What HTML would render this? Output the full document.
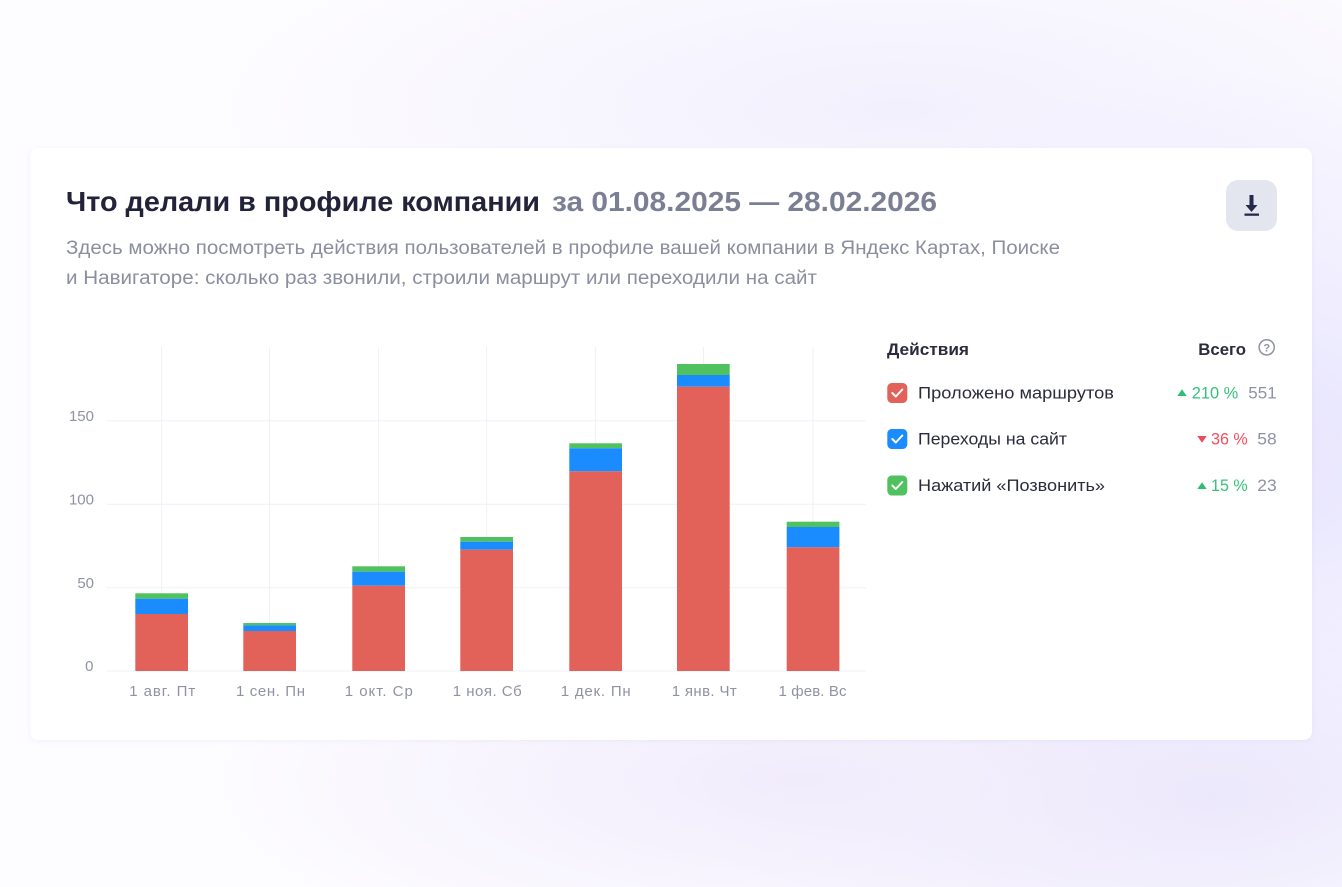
<!DOCTYPE html>
<html>
<head>
<meta charset="utf-8">
<style>
  html,body{margin:0;padding:0;}
  body{
    width:1342px;height:887px;overflow:hidden;position:relative;
    background:
      radial-gradient(ellipse 520px 380px at 1250px 450px, #e6e3fd 0%, rgba(230,227,253,0) 100%),
      radial-gradient(ellipse 600px 200px at 800px 780px, #f1ecfc 0%, rgba(241,236,252,0) 100%),
      radial-gradient(ellipse 700px 220px at 900px 110px, #f2f0fd 0%, rgba(242,240,253,0) 100%),
      radial-gradient(ellipse 500px 200px at 1200px 800px, #ebe7fc 0%, rgba(235,231,252,0) 100%),
      #fdfcff;
    font-family:"Liberation Sans", sans-serif;
  }
  svg{position:absolute;left:0;top:0;}
</style>
</head>
<body>
<svg width="1342" height="887" viewBox="0 0 1342 887" xmlns="http://www.w3.org/2000/svg" font-family="Liberation Sans, sans-serif">
  <defs>
    <filter id="sh" x="-5%" y="-5%" width="110%" height="110%">
      <feDropShadow dx="0" dy="1" stdDeviation="2" flood-color="#b8b4e0" flood-opacity="0.18"/>
    </filter>
  </defs>
  <!-- card -->
  <rect x="30" y="148" width="1282" height="592" rx="8" fill="#ffffff" filter="url(#sh)"/>

  <!-- title -->
  <text x="66" y="211" font-size="28" font-weight="bold" fill="#22223a" textLength="474" lengthAdjust="spacingAndGlyphs">Что делали в профиле компании</text>
  <text x="552" y="211" font-size="28" font-weight="bold" fill="#7b7f93" textLength="385" lengthAdjust="spacingAndGlyphs">за 01.08.2025 — 28.02.2026</text>

  <!-- subtitle -->
  <text x="66" y="254" font-size="19" fill="#8b8e9f" textLength="994" lengthAdjust="spacingAndGlyphs">Здесь можно посмотреть действия пользователей в профиле вашей компании в Яндекс Картах, Поиске</text>
  <text x="66" y="284" font-size="19" fill="#8b8e9f" textLength="751" lengthAdjust="spacingAndGlyphs">и Навигаторе: сколько раз звонили, строили маршрут или переходили на сайт</text>

  <!-- download button -->
  <rect x="1226" y="180" width="51" height="51" rx="12" fill="#e4e6ef"/>
  <rect x="1249.5" y="195" width="4" height="11" fill="#262a4a"/>
  <polygon points="1245.5,205 1257.5,205 1251.5,212" fill="#262a4a"/>
  <rect x="1244.5" y="213.5" width="14.5" height="2.3" fill="#262a4a"/>

  <!-- grid -->
  <g stroke="#eef1f8" stroke-width="1">
    <line x1="161.6" y1="347" x2="161.6" y2="671"/>
    <line x1="269.6" y1="347" x2="269.6" y2="671"/>
    <line x1="378.6" y1="347" x2="378.6" y2="671"/>
    <line x1="486.6" y1="347" x2="486.6" y2="671"/>
    <line x1="595.6" y1="347" x2="595.6" y2="671"/>
    <line x1="703.5" y1="347" x2="703.5" y2="671"/>
    <line x1="813" y1="347" x2="813" y2="671"/>
    <line x1="107" y1="420.7" x2="866" y2="420.7"/>
    <line x1="107" y1="504.3" x2="866" y2="504.3"/>
    <line x1="107" y1="587.7" x2="866" y2="587.7"/>
    <line x1="107" y1="671" x2="866" y2="671"/>
  </g>

  <!-- y labels -->
  <g font-size="15" fill="#8e92a3" text-anchor="end">
    <text x="94" y="421">150</text>
    <text x="94" y="504.5">100</text>
    <text x="94" y="588">50</text>
    <text x="93.5" y="671">0</text>
  </g>

  <!-- bars -->
  <g>
    <!-- 1 -->
    <rect x="135.3" y="593.3" width="52.7" height="5.4" fill="#4fc15e"/>
    <rect x="135.3" y="598.7" width="52.7" height="15.3" fill="#1a8cff"/>
    <rect x="135.3" y="614" width="52.7" height="57" fill="#e2625a"/>
    <!-- 2 -->
    <rect x="243.3" y="623" width="52.7" height="2.3" fill="#4fc15e"/>
    <rect x="243.3" y="625.3" width="52.7" height="5.7" fill="#1a8cff"/>
    <rect x="243.3" y="631" width="52.7" height="40" fill="#e2625a"/>
    <!-- 3 -->
    <rect x="352.3" y="566.3" width="52.7" height="5.4" fill="#4fc15e"/>
    <rect x="352.3" y="571.7" width="52.7" height="14" fill="#1a8cff"/>
    <rect x="352.3" y="585.7" width="52.7" height="85.3" fill="#e2625a"/>
    <!-- 4 -->
    <rect x="460.3" y="537" width="52.7" height="4.7" fill="#4fc15e"/>
    <rect x="460.3" y="541.7" width="52.7" height="8" fill="#1a8cff"/>
    <rect x="460.3" y="549.7" width="52.7" height="121.3" fill="#e2625a"/>
    <!-- 5 -->
    <rect x="569.3" y="443.3" width="52.7" height="5" fill="#4fc15e"/>
    <rect x="569.3" y="448.3" width="52.7" height="23" fill="#1a8cff"/>
    <rect x="569.3" y="471.3" width="52.7" height="199.7" fill="#e2625a"/>
    <!-- 6 -->
    <rect x="677" y="364" width="52.7" height="11" fill="#4fc15e"/>
    <rect x="677" y="375" width="52.7" height="11.7" fill="#1a8cff"/>
    <rect x="677" y="386.7" width="52.7" height="284.3" fill="#e2625a"/>
    <!-- 7 -->
    <rect x="786.7" y="521.7" width="52.7" height="5.3" fill="#4fc15e"/>
    <rect x="786.7" y="527" width="52.7" height="20.3" fill="#1a8cff"/>
    <rect x="786.7" y="547.3" width="52.7" height="123.7" fill="#e2625a"/>
  </g>

  <!-- x labels -->
  <g font-size="15" fill="#8e92a3" text-anchor="middle">
    <text x="162.2" y="696" textLength="66" lengthAdjust="spacing">1 авг. Пт</text>
    <text x="270.5" y="696" textLength="69" lengthAdjust="spacing">1 сен. Пн</text>
    <text x="378.8" y="696" textLength="68" lengthAdjust="spacing">1 окт. Ср</text>
    <text x="487.2" y="696" textLength="69" lengthAdjust="spacing">1 ноя. Сб</text>
    <text x="595.7" y="696" textLength="70" lengthAdjust="spacing">1 дек. Пн</text>
    <text x="704.2" y="696" textLength="65" lengthAdjust="spacing">1 янв. Чт</text>
    <text x="812.5" y="696" textLength="68" lengthAdjust="spacing">1 фев. Вс</text>
  </g>

  <!-- legend header -->
  <text x="887" y="355" font-size="17" font-weight="bold" fill="#2a2b3d" textLength="82" lengthAdjust="spacingAndGlyphs">Действия</text>
  <text x="1198.3" y="355" font-size="17" font-weight="bold" fill="#2a2b3d" textLength="47.7" lengthAdjust="spacingAndGlyphs">Всего</text>
  <circle cx="1266.7" cy="347.3" r="7.6" fill="none" stroke="#8e92a3" stroke-width="1.5"/>
  <text x="1266.7" y="351.6" font-size="11" font-weight="bold" fill="#8e92a3" text-anchor="middle">?</text>

  <!-- legend rows -->
  <g>
    <rect x="887.3" y="383" width="20" height="20" rx="4.5" fill="#e2625a"/>
    <polyline points="892.3,393 895.8,396.5 902.3,389.5" fill="none" stroke="#fff" stroke-width="2" stroke-linecap="round" stroke-linejoin="round"/>
    <text x="918" y="398.5" font-size="17" fill="#2a2b3d" textLength="196" lengthAdjust="spacingAndGlyphs">Проложено маршрутов</text>
    <polygon points="1177.3,396 1186.7,396 1182,389.3" fill="#2fbf73"/>
    <text x="1191.7" y="398.5" font-size="17" fill="#33c27a" textLength="46.6" lengthAdjust="spacingAndGlyphs">210 %</text>
    <text x="1248.3" y="398.5" font-size="17" fill="#8e92a3" textLength="28.4" lengthAdjust="spacingAndGlyphs">551</text>

    <rect x="887.3" y="429" width="20" height="20" rx="4.5" fill="#1a8cff"/>
    <polyline points="892.3,439 895.8,442.5 902.3,435.5" fill="none" stroke="#fff" stroke-width="2" stroke-linecap="round" stroke-linejoin="round"/>
    <text x="918" y="444.5" font-size="17" fill="#2a2b3d" textLength="149" lengthAdjust="spacingAndGlyphs">Переходы на сайт</text>
    <polygon points="1197.3,436 1206.7,436 1202,442.7" fill="#f04a5c"/>
    <text x="1211" y="444.5" font-size="17" fill="#f24e60" textLength="36.7" lengthAdjust="spacingAndGlyphs">36 %</text>
    <text x="1257.3" y="444.5" font-size="17" fill="#8e92a3" textLength="19.4" lengthAdjust="spacingAndGlyphs">58</text>

    <rect x="887.3" y="475.5" width="20" height="20" rx="4.5" fill="#4fc15e"/>
    <polyline points="892.3,485.5 895.8,489 902.3,482" fill="none" stroke="#fff" stroke-width="2" stroke-linecap="round" stroke-linejoin="round"/>
    <text x="918" y="491" font-size="17" fill="#2a2b3d" textLength="187" lengthAdjust="spacingAndGlyphs">Нажатий «Позвонить»</text>
    <polygon points="1197.3,489 1206.7,489 1202,482.3" fill="#2fbf73"/>
    <text x="1211" y="491" font-size="17" fill="#33c27a" textLength="36.7" lengthAdjust="spacingAndGlyphs">15 %</text>
    <text x="1257.3" y="491" font-size="17" fill="#8e92a3" textLength="19.4" lengthAdjust="spacingAndGlyphs">23</text>
  </g>
</svg>
</body>
</html>
